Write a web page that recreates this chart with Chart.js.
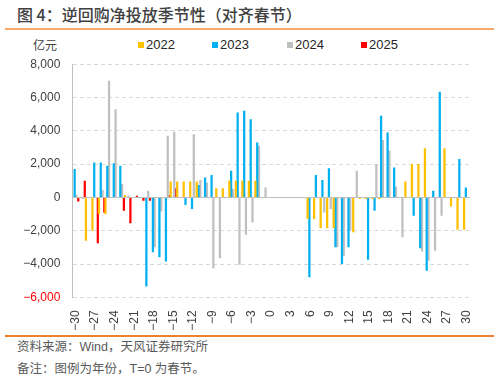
<!DOCTYPE html>
<html>
<head>
<meta charset="utf-8">
<script src="https://cdn.jsdelivr.net/npm/chart.js@4.4.1/dist/chart.umd.min.js"></script>
<style>
html,body{margin:0;padding:0;background:#fff;}
body{width:499px;height:379px;position:relative;overflow:hidden;font-family:"Liberation Sans","Noto Sans CJK SC",sans-serif;}
#title{position:absolute;left:17px;top:3px;font-size:16px;line-height:22px;color:#404040;font-weight:500;font-family:"Noto Sans CJK SC",sans-serif;white-space:nowrap;}
#topline{position:absolute;left:5px;top:28px;width:489px;height:2px;background:#F5A867;}
#unit{position:absolute;left:33px;top:37px;font-size:12px;line-height:16px;color:#404040;font-family:"Noto Sans CJK SC",sans-serif;}
.lg{position:absolute;top:37px;font-size:13px;line-height:16px;color:#262626;white-space:nowrap;}
.lg i{display:inline-block;width:6px;height:6px;margin-right:2px;vertical-align:1px;}
#wrap{position:absolute;left:0;top:45px;width:499px;height:291px;}
#bottomline{position:absolute;left:5px;top:335px;width:489px;height:2px;background:#EE7F2D;}
.txt{position:absolute;left:17px;font-size:12.5px;line-height:16px;color:#595959;white-space:nowrap;font-family:"Liberation Sans","Noto Sans CJK SC",sans-serif;}
</style>
</head>
<body>
<div id="title">图 4：逆回购净投放季节性（对齐春节）</div>
<div id="topline"></div>
<div id="unit">亿元</div>
<div id="legend"></div>
<div id="wrap"><canvas id="c"></canvas></div>
<div id="bottomline"></div>
<div class="txt" style="top:339px">资料来源：Wind，天风证券研究所</div>
<div class="txt" style="top:361px">备注：图例为年份，T=0 为春节。</div>
<script>
const categories = [-30,-29,-28,-27,-26,-25,-24,-23,-22,-21,-20,-19,-18,-17,-16,-15,-14,-13,-12,-11,-10,-9,-8,-7,-6,-5,-4,-3,-2,-1,0,1,2,3,4,5,6,7,8,9,10,11,12,13,14,15,16,17,18,19,20,21,22,23,24,25,26,27,28,29,30];
const seriesNames = ['2022','2023','2024','2025'];
const seriesColors = ['#FFC000','#00B0F0','#BFBFBF','#FF0000'];
const y2022 = [null,null,-2600,-2000,-1000,-1000,null,null,150,null,
  null,null,null,null,null,950,950,950,950,950,
  null,null,550,550,1000,1000,1000,1000,1000,null,
  null,null,null,null,null,null,-1300,-1300,-1850,-1850,
  -1850,null,null,-2100,-100,-100,-100,-100,null,null,
  null,950,2000,2000,2950,null,null,2950,-550,-1950,
  -1950];
const y2023 = [1700,null,null,2100,2100,1900,2050,1900,null,null,
  null,-5350,-3300,-3600,-3850,null,null,-450,-700,750,
  1200,1350,null,null,1600,5100,5200,4700,3300,null,
  null,null,null,null,null,null,-4800,1350,1050,1750,
  -3000,-4000,-3000,null,null,-3750,-800,4900,3900,1800,
  null,null,-1100,-3050,-4400,400,6350,null,null,2300,
  600];
const y2024 = [150,-100,null,null,450,7000,5300,800,100,null,
  null,400,-3000,-850,3700,3950,null,null,3800,1050,
  900,-4250,-3650,null,500,-4050,-2250,-1500,3100,600,
  null,null,null,null,null,null,null,null,-900,-700,
  -3000,-3500,-2000,1600,null,null,2000,3450,2800,650,
  -2400,null,null,-3250,-3800,-3200,-1100,null,null,null,
  null];
const y2025 = [-250,1000,null,-2750,-900,null,null,-800,-1550,100,
  -200,-200,null,null,150,550,null,null,null,null,
  null,null,null,null,null,null,null,null,null,null,
  null,null,null,null,null,null,null,null,null,null,
  null,null,null,null,null,null,null,null,null,null,
  null,null,null,null,null,null,null,null,null,null,
  null];
const yTicks = [-6000,-4000,-2000,0,2000,4000,6000,8000];
const xTickEvery = 3;

const values = [y2022,y2023,y2024,y2025];
const legendX = [138,212,287,361];
const lg = document.getElementById('legend');
seriesNames.forEach((n,i)=>{
  const d=document.createElement('div');d.className='lg';d.style.left=legendX[i]+'px';
  d.innerHTML='<i style="background:'+seriesColors[i]+'"></i>'+n;lg.appendChild(d);
});

const fmt = v => (v<0?'\u2212':'') + Math.abs(v).toLocaleString('en-US');
const FONT = '"Liberation Sans", Arial, sans-serif';

const zeroLine = {
  id:'zeroLine',
  beforeDatasetsDraw(chart){
    const {ctx, chartArea:a, scales:{y}} = chart;
    const py = Math.round(y.getPixelForValue(0)) + 0.5;
    ctx.save(); ctx.strokeStyle='#BFBFBF'; ctx.lineWidth=1;
    ctx.beginPath(); ctx.moveTo(a.left,py); ctx.lineTo(a.right,py); ctx.stroke(); ctx.restore();
  }
};

new Chart(document.getElementById('c'), {
  type:'bar',
  data:{
    labels: categories,
    datasets: seriesNames.map((n,i)=>({
      label:n, data:values[i], backgroundColor:seriesColors[i], borderWidth:0,
      categoryPercentage:1.1, barPercentage:1.25
    }))
  },
  options:{
    responsive:true, maintainAspectRatio:false, animation:false,
    layout:{padding:{top:0,left:0,right:29,bottom:0}},
    plugins:{legend:{display:false}, tooltip:{enabled:false}},
    scales:{
      x:{
        grid:{display:false}, border:{display:false},
        ticks:{autoSkip:false, maxRotation:90, minRotation:90, padding:5, color:'#404040',
          font:{size:12, family:FONT},
          callback:(v,i)=> (i % xTickEvery === 0) ? fmt(categories[i]) : ''},
        afterFit(s){ s.height = 38.7; }
      },
      y:{
        min:yTicks[0], max:yTicks[yTicks.length-1],
        afterBuildTicks(s){ s.ticks = yTicks.map(v=>({value:v})); },
        grid:{color:'#D9D9D9', lineWidth:1, drawTicks:false},
        border:{display:true, color:'#BFBFBF', width:1, dash:[4,3]},
        ticks:{padding:12, font:{size:12, family:FONT},
          color:c => c.tick && c.tick.value === -6000 ? '#FF0000' : '#404040',
          callback:v=>fmt(v)},
        afterFit(s){ s.width = 72.3; }
      }
    }
  },
  plugins:[zeroLine]
});
</script>
</body>
</html>
